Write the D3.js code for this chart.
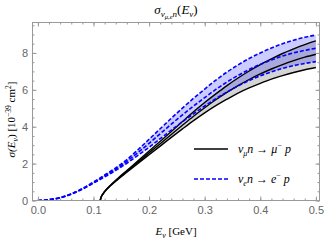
<!DOCTYPE html>
<html>
<head>
<meta charset="utf-8">
<script src="https://cdn.jsdelivr.net/npm/d3@7"></script>
<style>
  body { margin: 0; background: #fff; }
  svg { display: block; }
  .tick text { fill: #666; font-family: "Liberation Sans", Arial, sans-serif; font-size: 11px; }
  .tick line { stroke: #999; }
  .math { font-family: "Liberation Serif", "Times New Roman", serif; fill: #000; }
</style>
</head>
<body>
<script>

// electron neutrino curve (nu_e n -> e- p), energy grid in GeV
var eGridE = [0.00, 0.02, 0.04, 0.06, 0.08, 0.10, 0.12, 0.14, 0.16, 0.18, 0.20, 0.22, 0.24,
              0.26, 0.28, 0.30, 0.32, 0.34, 0.36, 0.38, 0.40, 0.42, 0.44, 0.46, 0.48, 0.50];
var eMid   = [0, 0.04, 0.15, 0.35, 0.63, 0.97, 1.33, 1.70, 2.12, 2.60, 3.10, 3.62, 4.14,
              4.64, 5.12, 5.58, 6.02, 6.42, 6.78, 7.10, 7.38, 7.62, 7.83, 8.00, 8.14, 8.25];
var eUpper = [0, 0.04, 0.16, 0.36, 0.65, 1.00, 1.38, 1.77, 2.22, 2.75, 3.32, 3.89, 4.46,
              5.01, 5.54, 6.04, 6.52, 6.96, 7.35, 7.70, 8.00, 8.27, 8.50, 8.69, 8.85, 8.97];
var eLower = [0, 0.04, 0.14, 0.34, 0.61, 0.94, 1.28, 1.63, 2.02, 2.45, 2.88, 3.35, 3.82,
              4.27, 4.70, 5.12, 5.52, 5.88, 6.21, 6.50, 6.76, 6.97, 7.16, 7.31, 7.43, 7.53];

// muon neutrino curve (nu_mu n -> mu- p), starts at threshold
var muGridE = [0.112, 0.114, 0.117, 0.12, 0.13, 0.14, 0.16, 0.18, 0.20, 0.22, 0.24, 0.26,
               0.28, 0.30, 0.32, 0.34, 0.36, 0.38, 0.40, 0.42, 0.44, 0.46, 0.48, 0.50];
var muMid   = [0, 0.20, 0.35, 0.48, 0.80, 1.07, 1.58, 2.08, 2.58, 3.08, 3.58, 4.08,
               4.57, 5.03, 5.46, 5.86, 6.23, 6.56, 6.86, 7.13, 7.37, 7.58, 7.77, 7.93];
var muUpper = [0, 0.20, 0.36, 0.49, 0.82, 1.10, 1.63, 2.15, 2.68, 3.21, 3.74, 4.28,
               4.81, 5.31, 5.78, 6.23, 6.64, 7.02, 7.37, 7.68, 7.97, 8.22, 8.45, 8.65];
var muLower = [0, 0.20, 0.34, 0.47, 0.78, 1.04, 1.53, 2.01, 2.48, 2.95, 3.42, 3.88,
               4.33, 4.75, 5.14, 5.49, 5.82, 6.10, 6.35, 6.58, 6.77, 6.94, 7.09, 7.21];

var xTicks = [0.0, 0.1, 0.2, 0.3, 0.4, 0.5];
var yTicks = [0, 2, 4, 6, 8];

var margin = {top: 22.5, right: 5.5, bottom: 41.5, left: 32.5}
  , width = 325 - margin.left - margin.right
  , height = 242 - margin.top - margin.bottom;

var svg = d3.select("body").append("svg")
    .attr("width", 325)
    .attr("height", 242);

var chart = svg.append("g")
    .attr("transform", "translate(" + margin.left + "," + margin.top + ")");

var xScale = d3.scaleLinear().domain([-0.0097, 0.5065]).range([0, width]);
var yScale = d3.scaleLinear().domain([0, 9.65]).range([height, 0]);

svg.append("defs").append("clipPath").attr("id", "clip")
  .append("rect").attr("width", width).attr("height", height);

function pts(xs, ys) {
  return xs.map(function(x, i) { return {x: x, y: ys[i]}; });
}
function band(xs, lo, hi) {
  return xs.map(function(x, i) { return {x: x, lo: lo[i], hi: hi[i]}; });
}

var line = d3.line()
    .x(function(d) { return xScale(d.x); })
    .y(function(d) { return yScale(d.y); })
    .curve(d3.curveMonotoneX);
var area = d3.area()
    .x(function(d) { return xScale(d.x); })
    .y0(function(d) { return yScale(d.lo); })
    .y1(function(d) { return yScale(d.hi); })
    .curve(d3.curveMonotoneX);

var plot = chart.append("g").attr("clip-path", "url(#clip)");

// filled uncertainty bands
plot.append("path")
    .datum(band(muGridE, muLower, muUpper))
    .attr("d", area)
    .attr("fill", "#000").attr("fill-opacity", 0.17);
plot.append("path")
    .datum(band(eGridE, eLower, eUpper))
    .attr("d", area)
    .attr("fill", "#00f").attr("fill-opacity", 0.2);

// black solid lines
[muUpper, muMid, muLower].forEach(function(ys) {
  plot.append("path")
      .datum(pts(muGridE, ys))
      .attr("d", line)
      .attr("fill", "none")
      .attr("stroke", "#000")
      .attr("stroke-width", 1.4);
});
// blue dashed lines
[eUpper, eMid, eLower].forEach(function(ys) {
  plot.append("path")
      .datum(pts(eGridE, ys))
      .attr("d", line)
      .attr("fill", "none")
      .attr("stroke", "#00f")
      .attr("stroke-width", 1.6)
      .attr("stroke-dasharray", "4,2");
});

// frame ticks (inward, all four sides)
function minorX() { return d3.range(0, 0.501, 0.02); }
function minorY() { return d3.range(0, 9.6, 0.5); }

chart.append("g").attr("transform", "translate(0," + height + ")")
    .call(d3.axisBottom(xScale).tickValues(minorX()).tickSize(-2).tickFormat(""));
chart.append("g").attr("transform", "translate(0," + height + ")")
    .call(d3.axisBottom(xScale).tickValues(xTicks).tickSize(-4).tickPadding(6)
      .tickFormat(d3.format(".1f")));
chart.append("g")
    .call(d3.axisTop(xScale).tickValues(minorX()).tickSize(-2).tickFormat(""));
chart.append("g")
    .call(d3.axisTop(xScale).tickValues(xTicks).tickSize(-4).tickFormat(""));

chart.append("g")
    .call(d3.axisLeft(yScale).tickValues(minorY()).tickSize(-2).tickFormat(""));
chart.append("g")
    .call(d3.axisLeft(yScale).tickValues(yTicks).tickSize(-4).tickPadding(4.5)
      .tickFormat(d3.format("d")));
chart.append("g").attr("transform", "translate(" + width + ",0)")
    .call(d3.axisRight(yScale).tickValues(minorY()).tickSize(-2).tickFormat(""));
chart.append("g").attr("transform", "translate(" + width + ",0)")
    .call(d3.axisRight(yScale).tickValues(yTicks).tickSize(-4).tickFormat(""));

chart.selectAll(".domain").remove();

chart.append("rect")
    .attr("width", width).attr("height", height)
    .attr("fill", "none").attr("stroke", "#999").attr("stroke-width", 1);

// title
var title = svg.append("text").attr("class", "math")
    .attr("x", margin.left + width / 2).attr("y", 14)
    .attr("text-anchor", "middle").attr("font-size", 13).attr("font-style", "italic");
title.append("tspan").text("σ");
title.append("tspan").attr("font-size", 9).attr("dy", 3).text("ν");
title.append("tspan").attr("font-size", 6.5).attr("dy", 2).attr("font-style", "italic").text("μ,e");
title.append("tspan").attr("font-size", 9).attr("dy", -2).text("n");
title.append("tspan").attr("dy", -3).attr("font-style", "normal").text("(");
title.append("tspan").text("E");
title.append("tspan").attr("font-size", 9).attr("dy", 3).text("ν");
title.append("tspan").attr("dy", -3).attr("font-style", "normal").text(")");

// x label
var xl = svg.append("text").attr("class", "math")
    .attr("x", margin.left + width / 2).attr("y", 235)
    .attr("text-anchor", "middle").attr("font-size", 11);
xl.append("tspan").attr("font-style", "italic").text("E");
xl.append("tspan").attr("font-size", 8).attr("dy", 2.5).attr("font-style", "italic").text("ν");
xl.append("tspan").attr("dy", -2.5).text(" [GeV]");

// y label
var yl = svg.append("text").attr("class", "math")
    .attr("transform", "translate(15," + (margin.top + height / 2 + 8) + ") rotate(-90)")
    .attr("text-anchor", "middle").attr("font-size", 11);
yl.append("tspan").attr("font-style", "italic").text("σ(E");
yl.append("tspan").attr("font-size", 8).attr("dy", 2.5).attr("font-style", "italic").text("ν");
yl.append("tspan").attr("dy", -2.5).text(") [10");
yl.append("tspan").attr("font-size", 7.5).attr("dy", -4).text("−39");
yl.append("tspan").attr("dy", 4).text(" cm");
yl.append("tspan").attr("font-size", 7.5).attr("dy", -4).text("2");
yl.append("tspan").attr("dy", 4).text("]");

// legend
var legend = [
  {y: 149, color: "#000", dash: null, w: 1.4, nu: "μ", lep: "μ"},
  {y: 179, color: "#00f", dash: "4,2", w: 1.6, nu: "e", lep: "e"}
];
legend.forEach(function(d) {
  svg.append("line")
      .attr("x1", 194).attr("x2", 228).attr("y1", d.y).attr("y2", d.y)
      .attr("stroke", d.color).attr("stroke-width", d.w)
      .attr("stroke-dasharray", d.dash);
  var t = svg.append("text").attr("class", "math")
      .attr("x", 238).attr("y", d.y + 4).attr("font-size", 12).attr("font-style", "italic");
  t.append("tspan").text("ν");
  t.append("tspan").attr("font-size", 8).attr("dy", 3).text(d.nu);
  t.append("tspan").attr("dy", -3).text("n ");
  t.append("tspan").attr("font-style", "normal").text("→ ");
  t.append("tspan").text(d.lep);
  t.append("tspan").attr("font-size", 8).attr("dy", -5).attr("font-style", "normal").text("−");
  t.append("tspan").attr("dy", 5).text(" p");
});

</script>
</body>
</html>
